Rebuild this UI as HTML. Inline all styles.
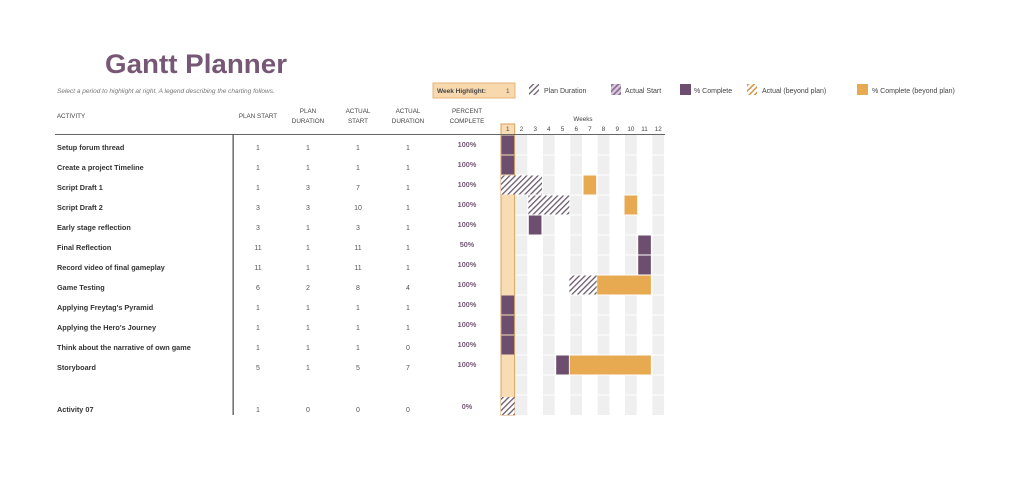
<!DOCTYPE html>
<html><head><meta charset="utf-8"><style>
body{margin:0;background:#fff;}
svg{display:block;font-family:"Liberation Sans",sans-serif;}
</style></head><body>
<svg width="1024" height="482" viewBox="0 0 1024 482" xmlns="http://www.w3.org/2000/svg">
<defs>
<pattern id="h" width="4" height="4" patternUnits="userSpaceOnUse" patternTransform="rotate(45)">
<rect width="4" height="4" fill="#fff"/><rect width="1.3" height="4" fill="#6a5a6a"/></pattern>
<pattern id="hp" width="4" height="4" patternUnits="userSpaceOnUse" patternTransform="rotate(45)">
<rect width="4" height="4" fill="#d8c8dc"/><rect width="1.6" height="4" fill="#8a6a90"/></pattern>
<pattern id="ho" width="4" height="4" patternUnits="userSpaceOnUse" patternTransform="rotate(45)">
<rect width="4" height="4" fill="#fff"/><rect width="1.5" height="4" fill="#d8924a"/></pattern>
</defs>
<text x="105" y="73" font-size="27" font-weight="bold" fill="#765876" textLength="182" lengthAdjust="spacingAndGlyphs">Gantt Planner</text>
<text x="57" y="93" font-size="6.5" font-style="italic" fill="#777">Select a period to highlight at right.  A legend describing the charting follows.</text>
<rect x="433" y="83" width="82" height="15" fill="#f8d9ae" stroke="#e6b478" stroke-width="1"/>
<text x="437" y="93" font-size="6.5" font-weight="bold" fill="#444">Week Highlight:</text>
<text x="506" y="93" font-size="6.5" fill="#555">1</text>
<rect x="529" y="84" width="10" height="11" fill="url(#h)"/>
<text x="544" y="93" font-size="7" fill="#444">Plan Duration</text>
<rect x="611" y="84" width="10" height="11" fill="url(#hp)"/>
<text x="625" y="93" font-size="7" fill="#444">Actual Start</text>
<rect x="680" y="84" width="11" height="11" fill="#6e4e6e"/>
<text x="694" y="93" font-size="7" fill="#444">% Complete</text>
<rect x="747" y="84" width="10" height="11" fill="url(#ho)"/>
<text x="762" y="93" font-size="7" fill="#444">Actual (beyond plan)</text>
<rect x="857" y="84" width="11" height="11" fill="#e8aa50"/>
<text x="872" y="93" font-size="7" fill="#444">% Complete (beyond plan)</text>
<g font-size="6.3" fill="#444" text-anchor="middle">
<text x="71" y="118">ACTIVITY</text>
<text x="258" y="118">PLAN START</text>
<text x="308" y="113">PLAN</text><text x="308" y="123">DURATION</text>
<text x="358" y="113">ACTUAL</text><text x="358" y="123">START</text>
<text x="408" y="113">ACTUAL</text><text x="408" y="123">DURATION</text>
<text x="467" y="113">PERCENT</text><text x="467" y="123">COMPLETE</text>
<text x="583" y="121">Weeks</text>
</g>
<!-- grey columns -->
<g fill="#efefef">
<rect x="515.67" y="135" width="11.67" height="280"/>
<rect x="543.01" y="135" width="11.67" height="280"/>
<rect x="570.35" y="135" width="11.67" height="280"/>
<rect x="597.69" y="135" width="11.67" height="280"/>
<rect x="625.03" y="135" width="11.67" height="280"/>
<rect x="652.37" y="135" width="11.67" height="280"/>
</g>
<g fill="#fff">
<rect x="501" y="154.5" width="164" height="1"/><rect x="501" y="174.5" width="164" height="1"/>
<rect x="501" y="194.5" width="164" height="1"/><rect x="501" y="214.5" width="164" height="1"/>
<rect x="501" y="234.5" width="164" height="1"/><rect x="501" y="254.5" width="164" height="1"/>
<rect x="501" y="274.5" width="164" height="1"/><rect x="501" y="294.5" width="164" height="1"/>
<rect x="501" y="314.5" width="164" height="1"/><rect x="501" y="334.5" width="164" height="1"/>
<rect x="501" y="354.5" width="164" height="1"/><rect x="501" y="374.5" width="164" height="1"/>
<rect x="501" y="394.5" width="164" height="1"/>
</g>
<rect x="501" y="124" width="13.67" height="291" fill="#f8dcb4" stroke="#d9a25c" stroke-width="1"/>
<g font-size="6.3" fill="#444" text-anchor="middle">
<text x="507.8" y="131">1</text><text x="521.5" y="131">2</text><text x="535.2" y="131">3</text>
<text x="548.8" y="131">4</text><text x="562.5" y="131">5</text><text x="576.2" y="131">6</text>
<text x="589.9" y="131">7</text><text x="603.5" y="131">8</text><text x="617.2" y="131">9</text>
<text x="630.9" y="131">10</text><text x="644.5" y="131">11</text><text x="658.2" y="131">12</text>
</g>
<rect x="55" y="134" width="610" height="1" fill="#666"/>
<rect x="232.5" y="134" width="1.3" height="281" fill="#555"/>
<!-- bars -->
<g fill="#6e4e6e">
<rect x="501.5" y="135.5" width="12.67" height="19"/>
<rect x="501.5" y="155.5" width="12.67" height="19"/>
<rect x="528.8" y="215.5" width="12.67" height="19"/>
<rect x="638.2" y="235.5" width="12.67" height="19"/>
<rect x="638.2" y="255.5" width="12.67" height="19"/>
<rect x="501.5" y="295.5" width="12.67" height="19"/>
<rect x="501.5" y="315.5" width="12.67" height="19"/>
<rect x="501.5" y="335.5" width="12.67" height="19"/>
<rect x="556.2" y="355.5" width="12.67" height="19"/>
</g>
<g fill="#e8aa50">
<rect x="583.5" y="175.5" width="12.67" height="19"/>
<rect x="624.5" y="195.5" width="12.67" height="19"/>
<rect x="597.2" y="275.5" width="53.7" height="19"/>
<rect x="569.85" y="355.5" width="81.02" height="19"/>
</g>
<g fill="url(#h)">
<rect x="501" y="175.5" width="41" height="19"/>
<rect x="528.34" y="195.5" width="41" height="19"/>
<rect x="569.35" y="275.5" width="27.34" height="19"/>
<rect x="501" y="397" width="13.67" height="18"/>
</g>
<!-- activity names -->
<g font-size="7.3" font-weight="bold" fill="#333">
<text x="57" y="150">Setup forum thread</text>
<text x="57" y="170">Create a project Timeline</text>
<text x="57" y="190">Script Draft 1</text>
<text x="57" y="210">Script Draft 2</text>
<text x="57" y="230">Early stage reflection</text>
<text x="57" y="250">Final Reflection</text>
<text x="57" y="270">Record video of final gameplay</text>
<text x="57" y="290">Game Testing</text>
<text x="57" y="310">Applying Freytag's Pyramid</text>
<text x="57" y="330">Applying the Hero's Journey</text>
<text x="57" y="350">Think about the narrative of own game</text>
<text x="57" y="370">Storyboard</text>
<text x="57" y="412">Activity 07</text>
</g>
<g font-size="7" fill="#555" text-anchor="middle">
<text x="258" y="150">1</text><text x="308" y="150">1</text><text x="358" y="150">1</text><text x="408" y="150">1</text>
<text x="258" y="170">1</text><text x="308" y="170">1</text><text x="358" y="170">1</text><text x="408" y="170">1</text>
<text x="258" y="190">1</text><text x="308" y="190">3</text><text x="358" y="190">7</text><text x="408" y="190">1</text>
<text x="258" y="210">3</text><text x="308" y="210">3</text><text x="358" y="210">10</text><text x="408" y="210">1</text>
<text x="258" y="230">3</text><text x="308" y="230">1</text><text x="358" y="230">3</text><text x="408" y="230">1</text>
<text x="258" y="250">11</text><text x="308" y="250">1</text><text x="358" y="250">11</text><text x="408" y="250">1</text>
<text x="258" y="270">11</text><text x="308" y="270">1</text><text x="358" y="270">11</text><text x="408" y="270">1</text>
<text x="258" y="290">6</text><text x="308" y="290">2</text><text x="358" y="290">8</text><text x="408" y="290">4</text>
<text x="258" y="310">1</text><text x="308" y="310">1</text><text x="358" y="310">1</text><text x="408" y="310">1</text>
<text x="258" y="330">1</text><text x="308" y="330">1</text><text x="358" y="330">1</text><text x="408" y="330">1</text>
<text x="258" y="350">1</text><text x="308" y="350">1</text><text x="358" y="350">1</text><text x="408" y="350">0</text>
<text x="258" y="370">5</text><text x="308" y="370">1</text><text x="358" y="370">5</text><text x="408" y="370">7</text>
<text x="258" y="412">1</text><text x="308" y="412">0</text><text x="358" y="412">0</text><text x="408" y="412">0</text>
</g>
<g font-size="7.3" font-weight="bold" fill="#765876" text-anchor="middle">
<text x="467" y="147">100%</text><text x="467" y="167">100%</text><text x="467" y="187">100%</text>
<text x="467" y="207">100%</text><text x="467" y="227">100%</text><text x="467" y="247">50%</text>
<text x="467" y="267">100%</text><text x="467" y="287">100%</text><text x="467" y="307">100%</text>
<text x="467" y="327">100%</text><text x="467" y="347">100%</text><text x="467" y="367">100%</text>
<text x="467" y="409">0%</text>
</g>
</svg>
</body></html>
